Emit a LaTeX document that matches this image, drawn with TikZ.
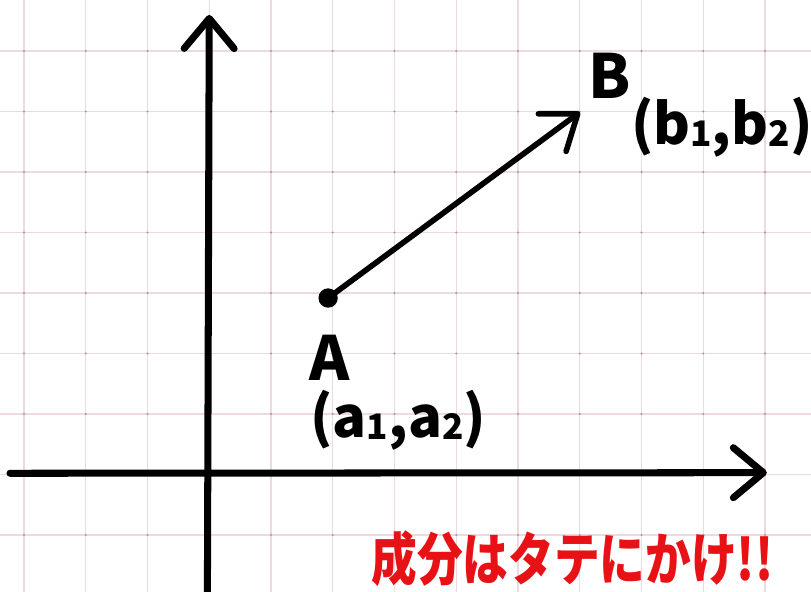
\documentclass[tikz,border=0pt]{standalone}
\usepackage{fontspec}
\setmainfont{Noto Sans CJK JP}
\usetikzlibrary{arrows.meta, positioning}
\definecolor{gridpink}{RGB}{236,218,222}
\definecolor{griddot}{RGB}{170,150,158}
\definecolor{notered}{RGB}{232,18,22}
\newcommand{\idx}[1]{\raisebox{-0.04em}{\fontsize{30}{30}\selectfont #1}}
\tikzset{
  gridline/.style={draw=gridpink, line width=1.2pt},
  axis/.style={line width=6pt, line cap=round, -{Straight Barb[length=0.9cm, width=1.5cm, round]}},
  vec/.style={line width=4.8pt, line cap=round, -{Straight Barb[length=0.95cm, width=1.4cm, round]}},
  dot/.style={circle, fill=black, inner sep=0pt, minimum size=0.58cm},
  ptlabel/.style={font=\fontsize{52}{58}\selectfont\bfseries, inner sep=0pt},
  coordlabel/.style={font=\fontsize{48}{56}\selectfont\bfseries, inner sep=0pt},
  notelabel/.style={font=\fontsize{39}{44}\selectfont\bfseries, text=notered, inner sep=0pt}
}

\begin{document}
\begin{tikzpicture}[x=1.8525cm, y=1.815cm]
    \useasboundingbox [fill=white] (-3.389,-1.942) rectangle (9.745,7.843);
    % grid paper
    \foreach \gx in {-3,...,9}
        \draw [gridline] (\gx,-1.942) -- (\gx,7.843);
    \foreach \gy in {-1,...,7}
        \draw [gridline] (-3.389,\gy) -- (9.745,\gy);
    \foreach \gx in {-3,...,9}
        \foreach \gy in {-1,...,7}
            \fill [griddot] (\gx,\gy) circle (1pt);
    % axes
    \coordinate (xstart) at (-3.227,0.02);
    \coordinate (xend)   at (9.03,0.03);
    \coordinate (ystart) at (-0.03,-1.95);
    \coordinate (yend)   at (0.0,7.595);
    \draw [axis] (xstart) -- (xend);
    \draw [axis] (ystart) -- (yend);
    % vector AB
    \node (Adot) [dot] at (1.925,2.917) {};
    \coordinate (Btip) at (6.004,5.99);
    \draw [vec] (Adot.center) -- (Btip);
    % labels
    \node (Alabel)  [ptlabel]    at (1.955,1.93) {A};
    \node (Acoord)  [coordlabel] at (3.06,0.90)  {(a\idx{1},a\idx{2})};
    \node (Blabel)  [ptlabel]    at (6.49,6.59)  {B};
    \node (Bcoord)  [coordlabel] at (8.30,5.74)  {(b\idx{1},b\idx{2})};
    \node (note)    [notelabel]  at (5.88,-1.40) {\scalebox{1}[1.25]{成分はタテにかけ!!}};
\end{tikzpicture}
\end{document}
